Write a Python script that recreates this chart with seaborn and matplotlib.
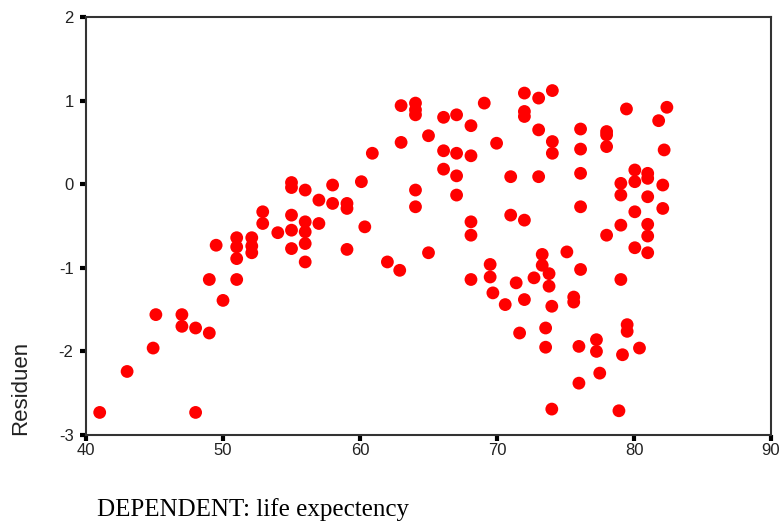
import matplotlib
matplotlib.use("Agg")
import matplotlib.pyplot as plt
import seaborn as sns
import pandas as pd

# life expectancy (x) and residuals (y)
life_exp = [
    41.0, 43.0, 44.9, 45.1, 47.0, 47.0, 48.0, 48.0, 49.0, 49.0,
    49.5, 50.0, 51.0, 51.0, 51.0, 51.0, 52.1, 52.1, 52.1, 52.9,
    52.9, 54.0, 55.0, 55.0, 55.0, 55.0, 55.0, 56.0, 56.0, 56.0,
    56.0, 56.0, 57.0, 57.0, 58.0, 58.0, 59.05, 59.05, 59.05, 60.1,
    60.35, 60.9, 62.0, 62.9, 63.0, 63.0, 64.05, 64.05, 64.05, 64.05,
    64.05, 65.0, 65.0, 66.1, 66.1, 66.1, 67.05, 67.05, 67.05, 67.05,
    68.1, 68.1, 68.1, 68.1, 68.1, 69.07, 69.5, 69.5, 69.7, 69.97,
    70.6, 71.0, 71.0, 71.4, 71.65, 72.0, 72.0, 72.0, 72.0, 72.0,
    72.7, 73.04, 73.04, 73.04, 73.3, 73.3, 73.55, 73.55, 73.8, 73.8,
    74.0, 74.0, 74.04, 74.04, 74.04, 75.1, 75.6, 75.6, 76.1, 76.1,
    76.1, 76.1, 76.1, 75.98, 75.98, 77.26, 77.26, 77.5, 78.0, 78.0,
    78.0, 78.0, 79.04, 79.04, 79.04, 79.04, 79.45, 79.5, 79.5, 79.16,
    78.9, 80.06, 80.06, 80.06, 80.06, 80.4, 81.0, 81.0, 81.0, 81.0,
    81.0, 81.0, 81.8, 82.4, 82.1, 82.1, 82.2,
]
residuals = [
    -2.73, -2.24, -1.96, -1.56, -1.56, -1.70, -1.72, -2.73, -1.78, -1.14,
    -0.73, -1.39, -1.14, -0.89, -0.75, -0.64, -0.82, -0.74, -0.64, -0.47,
    -0.33, -0.58, -0.77, -0.55, -0.37, 0.02, -0.04, -0.07, -0.45, -0.57,
    -0.71, -0.93, -0.19, -0.47, -0.01, -0.23, -0.23, -0.29, -0.78, 0.03,
    -0.51, 0.37, -0.93, -1.03, 0.94, 0.50, 0.97, 0.89, 0.83, -0.07,
    -0.27, 0.58, -0.82, 0.80, 0.40, 0.18, 0.83, 0.37, 0.10, -0.13,
    0.70, 0.34, -0.45, -0.61, -1.14, 0.97, -0.96, -1.11, -1.30, 0.49,
    -1.44, 0.09, -0.37, -1.18, -1.78, 1.09, 0.87, 0.81, -0.43, -1.38,
    -1.12, 1.03, 0.65, 0.09, -0.84, -0.97, -1.72, -1.95, -1.07, -1.22,
    -1.46, -2.69, 1.12, 0.51, 0.37, -0.81, -1.35, -1.41, 0.66, 0.42,
    0.13, -0.27, -1.02, -1.94, -2.38, -1.86, -2.00, -2.26, 0.63, 0.59,
    0.45, -0.61, 0.01, -0.13, -0.49, -1.14, 0.90, -1.68, -1.76, -2.04,
    -2.71, 0.17, 0.03, -0.33, -0.76, -1.96, 0.13, 0.07, -0.15, -0.48,
    -0.62, -0.82, 0.76, 0.92, -0.01, -0.29, 0.41,
]
x_ticks = [40, 50, 60, 70, 80, 90]
y_ticks = [-3, -2, -1, 0, 1, 2]
x_label = ""
y_label = "Residuen"
footer = "DEPENDENT: life expectency"

df = pd.DataFrame({"life": life_exp, "resid": residuals})

sns.set_theme(style="white")
plt.rcParams["font.family"] = ["Liberation Sans", "DejaVu Sans"]

fig = plt.figure(figsize=(7.8, 5.21), dpi=100)
ax = fig.add_axes([86 / 780, 1 - 435 / 521, (771 - 86) / 780, (435 - 17) / 521])

sns.scatterplot(data=df, x="life", y="resid", ax=ax, color="#ff0000",
                s=85, edgecolor="none", linewidth=0, zorder=3, clip_on=False)

ax.set_xlim(40, 90)
ax.set_ylim(-3, 2)
ax.set_xticks(x_ticks)
ax.set_yticks(y_ticks)
ax.set_xticklabels([str(t) for t in x_ticks], fontsize=12, color="#222222")
ax.set_yticklabels([str(t) for t in y_ticks], fontsize=12, color="#222222")
ax.tick_params(axis="both", direction="out", length=4, width=3, color="black",
               bottom=True, left=True)
ax.tick_params(axis="y", pad=5)
ax.tick_params(axis="x", pad=2)
ax.set_xlabel(x_label)
ax.set_ylabel(y_label, fontsize=16, color="#222222", loc="bottom", labelpad=20)

for sp in ax.spines.values():
    sp.set_visible(True)
    sp.set_color("#333333")
    sp.set_linewidth(1.5)
ax.grid(False)
ax.set_facecolor("white")

fig.text(97 / 780, 1 - 516 / 521, footer, fontsize=18,
         family=["Liberation Serif", "DejaVu Serif"], va="baseline", ha="left",
         color="black")

fig.savefig("out.png", dpi=100, facecolor="white")
